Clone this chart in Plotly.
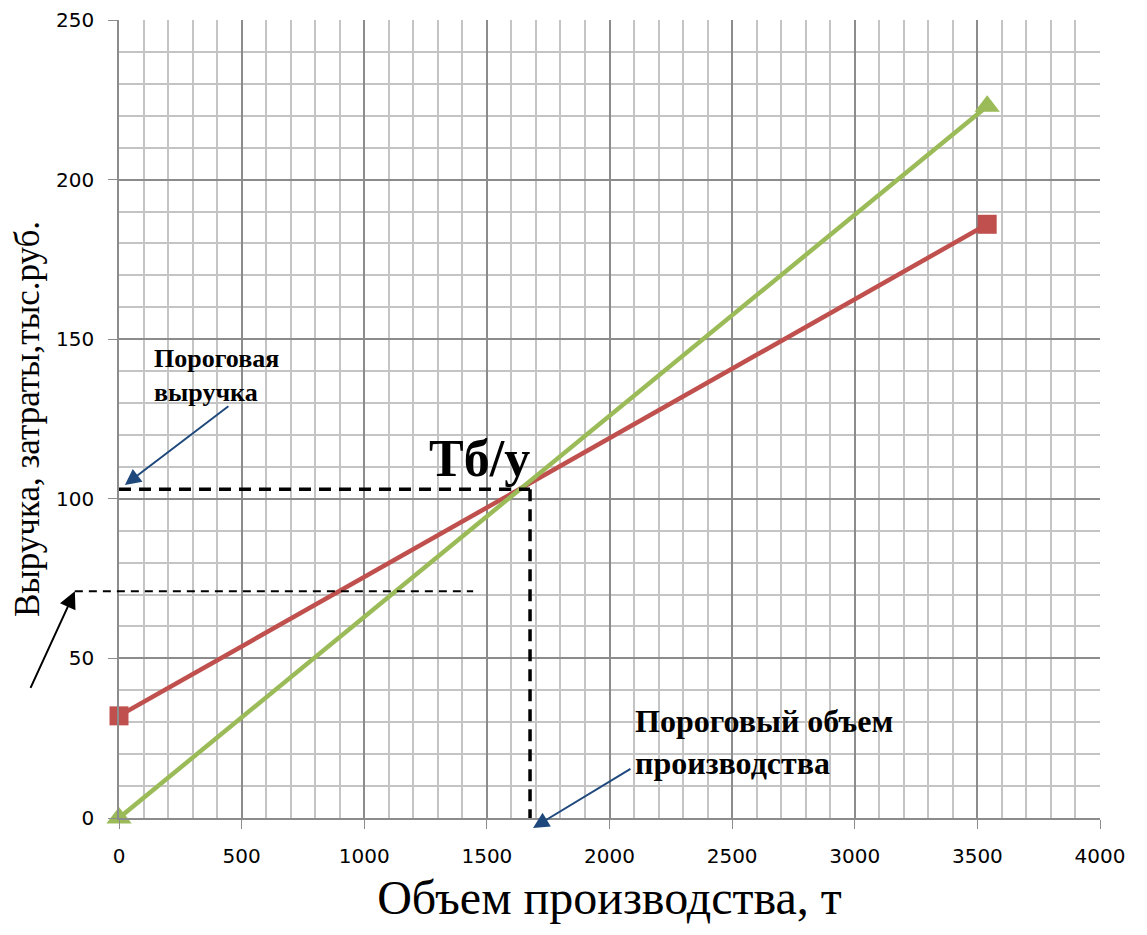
import plotly.graph_objects as go

# ---- data ----
volume = [0, 3540]                 # Объем производства, т
costs = [32, 186]                  # Затраты, тыс.руб.
revenue = [0, 223]                 # Выручка, тыс.руб.
be_volume = 1676                   # Пороговый объем производства
be_revenue = 103                   # Пороговая выручка
aux_level = 71                     # вспомогательный уровень
aux_from, aux_to = -180, 1444
x_ticks = [0, 500, 1000, 1500, 2000, 2500, 3000, 3500, 4000]
y_ticks = [0, 50, 100, 150, 200, 250]

X0, X1 = 0, 4000
Y0, Y1 = 0, 250


def px(x):
    return (x - X0) / (X1 - X0)


def py(y):
    return (y - Y0) / (Y1 - Y0)


fig = go.Figure()
fig.add_trace(go.Scatter(x=volume, y=costs, mode="lines+markers",
                         line=dict(color="#c0504d", width=4.5),
                         marker=dict(symbol="square", size=19, color="#c0504d"),
                         cliponaxis=False, showlegend=False))
fig.add_trace(go.Scatter(x=volume, y=revenue, mode="lines+markers",
                         line=dict(color="#9bbb59", width=4.5),
                         marker=dict(symbol="triangle-up", size=22, color="#9bbb59"),
                         cliponaxis=False, showlegend=False))

# dashed guide lines
fig.add_shape(type="line", xref="paper", yref="paper",
              x0=px(0), y0=py(be_revenue), x1=px(be_volume), y1=py(be_revenue),
              line=dict(color="black", width=3.5, dash="12px,8px"))
fig.add_shape(type="line", xref="paper", yref="paper",
              x0=px(be_volume), y0=py(be_revenue), x1=px(be_volume), y1=py(0),
              line=dict(color="black", width=3.5, dash="12px,8px"))
fig.add_shape(type="line", xref="paper", yref="paper",
              x0=px(aux_from), y0=py(aux_level), x1=px(aux_to), y1=py(aux_level),
              line=dict(color="black", width=2, dash="8px,6px"))

serif = "Liberation Serif"
# arrows
fig.add_annotation(x=px(aux_from), y=py(aux_level), xref="paper", yref="paper",
                   ax=-45, ay=98, showarrow=True, arrowhead=2, arrowsize=1.7,
                   arrowwidth=2, arrowcolor="black", text="")
fig.add_annotation(x=px(24), y=py(104.3), xref="paper", yref="paper",
                   ax=105, ay=-80, showarrow=True, arrowhead=2, arrowsize=1.6,
                   arrowwidth=2, arrowcolor="#1f497d", text="")
fig.add_annotation(x=px(1688), y=py(-3.1), xref="paper", yref="paper",
                   ax=99, ay=-60, showarrow=True, arrowhead=2, arrowsize=1.6,
                   arrowwidth=2, arrowcolor="#1f497d", text="")

# texts
fig.add_annotation(x=px(135), y=py(149), xref="paper", yref="paper",
                   xanchor="left", yanchor="top", align="left", showarrow=False,
                   text="<b>Пороговая<br>выручка</b>",
                   font=dict(family=serif, size=26, color="black"))
fig.add_annotation(x=px(2095), y=py(36.5), xref="paper", yref="paper",
                   xanchor="left", yanchor="top", align="left", showarrow=False,
                   text="<b>Пороговый объем<br>производства</b>",
                   font=dict(family=serif, size=32, color="black"))
fig.add_annotation(x=px(be_volume + 10), y=py(be_revenue), xref="paper", yref="paper",
                   xanchor="right", yanchor="bottom", showarrow=False,
                   text="<b>Тб/у</b>",
                   font=dict(family=serif, size=52, color="black"))

tickfont = dict(family="DejaVu Sans", size=20, color="black")
fig.update_xaxes(range=[X0, X1], tickvals=x_ticks, ticktext=[str(v) for v in x_ticks],
                 showgrid=True, gridcolor="#8c8c8c", gridwidth=1.5,
                 minor=dict(dtick=100, showgrid=True, gridcolor="#c4c4c4", gridwidth=1.5),
                 zeroline=False, showline=True, linecolor="#8c8c8c", linewidth=1.5,
                 ticks="outside", ticklen=9, tickcolor="#8c8c8c", ticklabelstandoff=10,
                 tickfont=tickfont, automargin=False,
                 title=dict(text="Объем производства, т",
                            font=dict(family=serif, size=48, color="black"), standoff=14))
fig.update_yaxes(range=[Y0, Y1], tickvals=y_ticks, ticktext=[str(v) for v in y_ticks],
                 showgrid=True, gridcolor="#8c8c8c", gridwidth=1.5,
                 minor=dict(dtick=10, showgrid=True, gridcolor="#c4c4c4", gridwidth=1.5),
                 zeroline=False, showline=True, linecolor="#8c8c8c", linewidth=1.5,
                 ticks="outside", ticklen=9, tickcolor="#8c8c8c", ticklabelstandoff=10,
                 tickfont=tickfont, automargin=False,
                 title=dict(text="Выручка, затраты,тыс.руб.",
                            font=dict(family=serif, size=35, color="black"), standoff=10))

# page body has an 8px margin, so the figure is sized to fit inside the window
fig.update_layout(width=1131, height=919, plot_bgcolor="white", paper_bgcolor="white",
                  margin=dict(l=111, r=39, t=12, b=109))
fig.write_html("out.html")
